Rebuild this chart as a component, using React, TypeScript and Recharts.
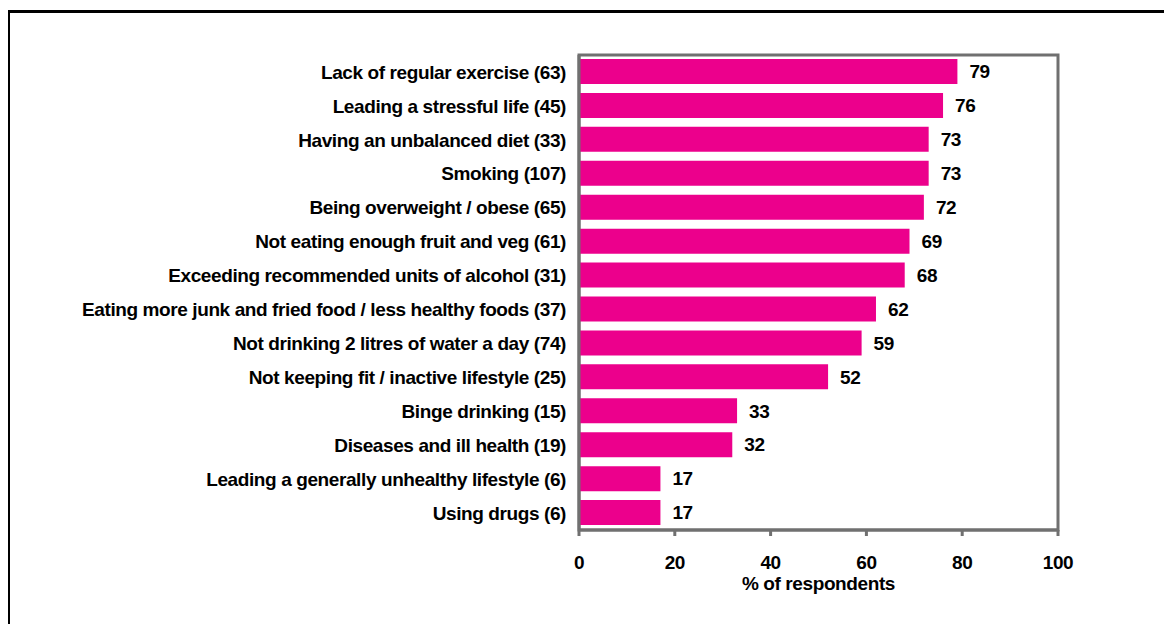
import React from 'react';
import { BarChart, Bar, XAxis, YAxis, LabelList, Label, ReferenceArea } from 'recharts';

const categories = [
  'Lack of regular exercise (63)',
  'Leading a stressful life (45)',
  'Having an unbalanced diet (33)',
  'Smoking (107)',
  'Being overweight / obese (65)',
  'Not eating enough fruit and veg (61)',
  'Exceeding recommended units of alcohol (31)',
  'Eating more junk and fried food / less healthy foods (37)',
  'Not drinking 2 litres of water a day (74)',
  'Not keeping fit / inactive lifestyle (25)',
  'Binge drinking (15)',
  'Diseases and ill health (19)',
  'Leading a generally unhealthy lifestyle (6)',
  'Using drugs (6)',
];

const percentages = [79, 76, 73, 73, 72, 69, 68, 62, 59, 52, 33, 32, 17, 17];

const xTicks = [0, 20, 40, 60, 80, 100];

const BAR_COLOR = '#EC008C';
const AXIS_COLOR = '#707070';
const FONT = '"Liberation Sans", Arial, sans-serif';

const textStyle = {
  fontFamily: FONT,
  fontSize: 19,
  fontWeight: 700,
  fill: '#000',
  letterSpacing: -0.4,
};

const App: React.FC = () => {
  const data = categories.map((label, i) => ({ label, value: percentages[i] }));

  return (
    <div style={{ margin: -8, width: 1172, height: 632, position: 'relative', overflow: 'hidden', background: '#fff' }}>
      {/* outer frame, only top and left edges visible */}
      <div
        style={{
          position: 'absolute',
          left: 7,
          top: 10,
          width: 1300,
          height: 800,
          borderTop: '3px solid #000',
          borderLeft: '3px solid #000',
        }}
      />
      <div style={{ position: 'absolute', left: 0, top: 0 }}>
        <BarChart
          width={1172}
          height={632}
          data={data}
          layout="vertical"
          margin={{ top: 55, right: 114, bottom: 72, left: 0 }}
          barSize={25}
        >
          <XAxis
            type="number"
            domain={[0, 100]}
            ticks={xTicks}
            axisLine={{ stroke: AXIS_COLOR, strokeWidth: 3 }}
            tickLine={{ stroke: AXIS_COLOR, strokeWidth: 3 }}
            tickSize={6}
            tickMargin={20}
            tick={textStyle}
            height={30}
          >
            <Label value="% of respondents" position="bottom" offset={17} style={textStyle} />
          </XAxis>
          <YAxis
            type="category"
            dataKey="label"
            width={579}
            axisLine={{ stroke: AXIS_COLOR, strokeWidth: 3 }}
            tickLine={false}
            tickSize={0}
            tickMargin={13}
            tick={textStyle}
            interval={0}
          />
          <Bar dataKey="value" fill={BAR_COLOR} isAnimationActive={false}>
            <LabelList dataKey="value" position="right" offset={12} style={textStyle} />
          </Bar>
          <ReferenceArea
            x1={0}
            x2={100}
            y1={categories[0]}
            y2={categories[categories.length - 1]}
            fill="none"
            fillOpacity={0}
            stroke={AXIS_COLOR}
            strokeWidth={3}
            strokeOpacity={1}
            ifOverflow="visible"
          />
        </BarChart>
      </div>
    </div>
  );
};

export default App;
